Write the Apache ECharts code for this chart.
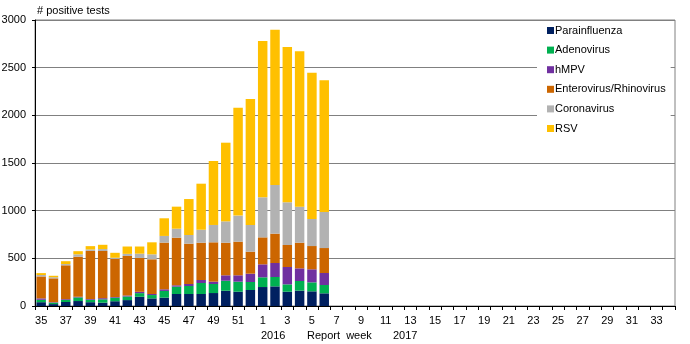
<!DOCTYPE html>
<html>
<head>
<meta charset="utf-8">
<script src="https://cdn.jsdelivr.net/npm/echarts@6/dist/echarts.min.js"></script>
<style>
html,body{margin:0;padding:0;background:#fff;}
#c{width:690px;height:344px;}
</style>
</head>
<body>
<div id="c"></div>
<script>
// Report weeks: 2016 weeks 35-52, 2017 weeks 1-34
const weeks = ['35','36','37','38','39','40','41','42','43','44','45','46','47','48','49','50','51','52',
  '1','2','3','4','5','6','7','8','9','10','11','12','13','14','15','16','17','18','19','20','21','22','23','24','25','26','27','28','29','30','31','32','33','34'];

const parainfluenza = [40,20,42,52,40,35,50,62,97,80,88,126,126,126,136,160,150,168,199,206,150,161,154,133];
const adenovirus    = [25,15,22,38,25,35,37,38,38,35,70,77,84,115,95,105,105,84,102,98,77,101,94,87];
const hmpv          = [15,5,8,7,8,12,7,10,14,11,17,14,21,32,24,57,67,87,136,147,182,133,137,126];
const enterovirus   = [230,250,355,420,505,495,400,415,355,364,490,500,423,391,413,342,353,231,283,308,231,269,244,262];
const coronavirus   = [15,12,13,25,15,20,12,22,45,52,70,94,91,136,182,224,273,280,420,510,448,378,284,378];
const rsv           = [20,15,30,33,35,45,52,77,75,126,185,231,377,483,671,825,1132,1321,1640,1630,1629,1630,1534,1381];

const seriesNames  = ['Parainfluenza','Adenovirus','hMPV','Enterovirus/Rhinovirus','Coronavirus','RSV'];
const seriesValues = [parainfluenza, adenovirus, hmpv, enterovirus, coronavirus, rsv];
const seriesColors = ['#002060','#00B050','#7030A0','#CC6600','#B2B2B2','#FFC000'];

const FONT = '"Liberation Sans", Arial, sans-serif';

const chart = echarts.init(document.getElementById('c'), null, {renderer:'canvas'});
chart.setOption({
  animation:false,
  backgroundColor:'#ffffff',
  textStyle:{fontFamily:FONT},
  grid:{left:35,right:15,top:20,bottom:38,containLabel:false,outerBoundsMode:'none',
        show:true,borderColor:'#808080',borderWidth:1,backgroundColor:'transparent'},
  legend:{
    orient:'vertical', left:537, top:21,
    backgroundColor:'#ffffff',
    padding:[4,5,6,10],
    itemWidth:7, itemHeight:7, itemGap:8.6,
    icon:'rect',
    textStyle:{fontFamily:FONT,fontSize:11,color:'#000',padding:[0,0,0,-4]},
    data:seriesNames
  },
  graphic:[
    {type:'text',left:37,top:5,style:{text:'# positive tests',font:'11px '+FONT,fill:'#000'}},
    {type:'text',left:261,top:330,style:{text:'2016',font:'11px '+FONT,fill:'#000'}},
    {type:'text',left:307,top:330,style:{text:'Report  week',font:'11px '+FONT,fill:'#000'}},
    {type:'text',left:393,top:330,style:{text:'2017',font:'11px '+FONT,fill:'#000'}}
  ],
  xAxis:{
    type:'category',
    data:weeks,
    boundaryGap:true,
    axisLine:{lineStyle:{color:'#000',width:1}},
    axisTick:{show:true,length:4,interval:0,lineStyle:{color:'#000'}},
    axisLabel:{interval:1,fontSize:11,color:'#000',fontFamily:FONT,margin:9},
    splitLine:{show:false}
  },
  yAxis:{
    type:'value',min:0,max:3000,interval:500,
    axisLine:{show:true,lineStyle:{color:'#000',width:1}},
    axisTick:{show:true,length:3,lineStyle:{color:'#000'}},
    axisLabel:{fontSize:11,color:'#000',fontFamily:FONT,margin:9,formatter:v=>String(v)},
    splitLine:{show:true,lineStyle:{color:'#808080',width:1}}
  },
  series: seriesNames.map((n,i)=>({
    name:n,type:'bar',stack:'total',
    data:seriesValues[i],
    barCategoryGap:'23%',
    itemStyle:{color:seriesColors[i]},
    emphasis:{disabled:true}
  }))
});
</script>
</body>
</html>
